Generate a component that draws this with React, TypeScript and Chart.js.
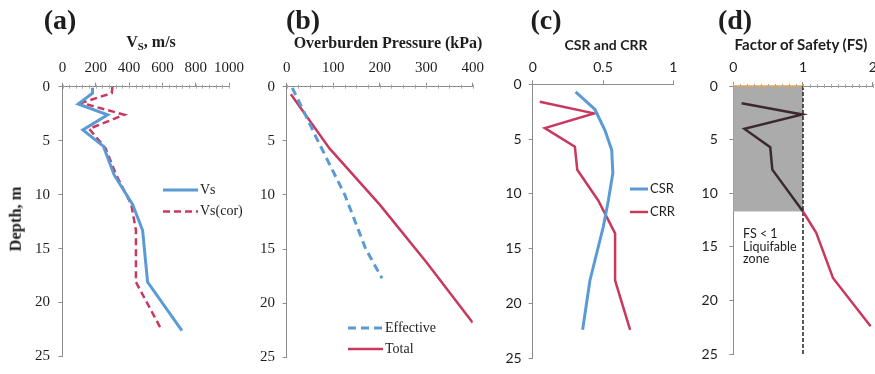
import React, { useEffect, useRef } from "react";
import { Chart, registerables } from "chart.js";

Chart.register(...registerables);

// ---------- Data ----------
// (a) Shear wave velocity profile
const VS_DEPTH = [0.1, 0.6, 1.6, 2.6, 4.0, 5.5, 8.2, 10.9, 13.3, 18.1, 22.6];
const VS = [180, 180, 94, 271, 122, 245, 311, 421, 481, 511, 717];
const VSCOR_DEPTH = [0.0, 0.6, 1.5, 2.6, 3.9, 5.7, 8.2, 10.9, 13.3, 18.1, 22.6];
const VS_COR = [300, 296, 114, 371, 160, 258, 323, 413, 441, 441, 597];

// (b) Overburden pressure
const EFF_DEPTH = [0.1, 5.0, 10.0, 15.0, 17.7];
const EFFECTIVE = [12, 67, 125, 170, 205];
const TOT_DEPTH = [0.7, 5.7, 10.9, 16.2, 21.8];
const TOTAL = [9, 92, 200, 300, 400];

// (c) CSR and CRR
const CSR_DEPTH = [0.7, 2.3, 4.2, 6.0, 8.1, 10.6, 13.0, 17.9, 22.4];
const CSR = [0.305, 0.443, 0.514, 0.562, 0.57, 0.538, 0.502, 0.407, 0.355];
const CRR_DEPTH = [1.6, 2.65, 4.0, 5.7, 7.8, 10.6, 13.6, 17.9, 22.4];
const CRR = [0.05, 0.436, 0.086, 0.3, 0.317, 0.466, 0.586, 0.586, 0.693];

// (d) Factor of safety
const FS_DEPTH = [1.6, 2.65, 4.0, 5.7, 7.8, 11.7, 13.7, 17.9, 22.4];
const FS = [0.12, 0.99, 0.16, 0.53, 0.56, 1.0, 1.19, 1.43, 1.97];
const FS_LIMIT = [1, 1];
const FS_LIMIT_DEPTH = [0, 25];
const LIQ_DEPTH = 11.7;
const ZONE_TEXT = ["FS < 1", "Liquifable", "zone"];

// axis ranges / tick steps
const DEPTH_MAX = 25;
const DEPTH_STEP = 5;

// ---------- Styles ----------
const SERIF = '"Liberation Serif", "DejaVu Serif", serif';
const SANS = 'Lato, "Open Sans", "Noto Sans", sans-serif';
const BLUE = "#5b9bd5";
const RED = "#c8385f";
const DARK = "#3a2a2f";
const AXIS = "#8c8c8c";
const TEXT = "#1e1e1e";

const pts = (xs: number[], ys: number[]) => xs.map((x, i) => ({ x, y: ys[i] }));

type LegendItem = { label: string; color: string; dash: number[]; width: number };

const legendPlugin = (
  items: LegendItem[],
  dx: number,
  dy: number,
  rowH: number,
  sampleLen: number,
  font: string
) => ({
  id: "customLegend",
  afterDatasetsDraw(chart: any) {
    const { ctx, chartArea } = chart;
    ctx.save();
    items.forEach((it, i) => {
      const x = chartArea.left + dx;
      const y = chartArea.top + dy + i * rowH;
      ctx.beginPath();
      ctx.setLineDash(it.dash);
      ctx.strokeStyle = it.color;
      ctx.lineWidth = it.width;
      ctx.moveTo(x, y);
      ctx.lineTo(x + sampleLen, y);
      ctx.stroke();
      ctx.setLineDash([]);
      ctx.fillStyle = TEXT;
      ctx.font = font;
      ctx.textAlign = "left";
      ctx.textBaseline = "middle";
      ctx.fillText(it.label, x + sampleLen + 2, y);
    });
    ctx.restore();
  },
});

// small minor tick marks along the top axis, like the scanned original
const minorTicks = (step: number) => ({
  id: "minorTicks",
  afterDraw(chart: any) {
    const { ctx, scales, chartArea } = chart;
    const sx = scales.x;
    ctx.save();
    ctx.strokeStyle = "#a8a8a8";
    ctx.lineWidth = 1;
    ctx.beginPath();
    for (let v = sx.min; v <= sx.max + 1e-9; v += step) {
      const px = Math.round(sx.getPixelForValue(v)) + 0.5;
      ctx.moveTo(px, chartArea.top - 2);
      ctx.lineTo(px, chartArea.top + 2);
    }
    ctx.stroke();
    ctx.restore();
  },
});

type PanelCfg = {
  xMin: number;
  xMax: number;
  xStep: number;
  yW: number;
  xH: number;
  padT: number;
  padR: number;
  padB: number;
  family: string;
  fontSize: number;
  xPad: number;
  yPad: number;
};

function makeOptions(p: PanelCfg) {
  const font = { family: p.family, size: p.fontSize };
  return {
    animation: false,
    responsive: true,
    maintainAspectRatio: false,
    layout: { padding: { left: 0, right: p.padR, top: p.padT, bottom: p.padB } },
    plugins: { legend: { display: false }, tooltip: { enabled: false }, title: { display: false } },
    scales: {
      x: {
        type: "linear",
        position: "top",
        min: p.xMin,
        max: p.xMax,
        afterFit: (s: any) => {
          s.height = p.xH;
        },
        ticks: {
          stepSize: p.xStep,
          font,
          color: TEXT,
          padding: p.xPad,
          maxRotation: 0,
          autoSkip: false,
          callback: (v: any) => String(v),
        },
        grid: { drawOnChartArea: false, drawTicks: true, tickLength: 4, color: AXIS },
        border: { color: AXIS, width: 1 },
      },
      y: {
        type: "linear",
        reverse: true,
        min: 0,
        max: DEPTH_MAX,
        afterFit: (s: any) => {
          s.width = p.yW;
        },
        ticks: {
          stepSize: DEPTH_STEP,
          font,
          color: TEXT,
          padding: p.yPad,
          callback: (v: any) => String(v),
        },
        grid: { drawOnChartArea: false, drawTicks: true, tickLength: 4, color: AXIS },
        border: { color: AXIS, width: 1 },
      },
    },
  };
}

function ChartPanel({ left, width, build }: { left: number; width: number; build: () => any }) {
  const ref = useRef<HTMLCanvasElement>(null);
  useEffect(() => {
    const chart = new Chart(ref.current as HTMLCanvasElement, build());
    return () => chart.destroy();
  }, []);
  return (
    <div style={{ position: "absolute", left, top: 0, width, height: 374 }}>
      <canvas ref={ref} />
    </div>
  );
}

function Txt({
  x,
  y,
  size,
  family,
  bold = true,
  rotate = 0,
  children,
}: {
  x: number;
  y: number;
  size: number;
  family: string;
  bold?: boolean;
  rotate?: number;
  children: any;
}) {
  return (
    <div
      style={{
        position: "absolute",
        left: x,
        top: y,
        transform: `translate(-50%, -50%) rotate(${rotate}deg)`,
        fontFamily: family,
        fontSize: size,
        fontWeight: bold ? 700 : 400,
        lineHeight: 1,
        whiteSpace: "nowrap",
        color: TEXT,
      }}
    >
      {children}
    </div>
  );
}

const line = (data: any[], color: string, width: number, dash: number[] = []) => ({
  data,
  showLine: true,
  borderColor: color,
  backgroundColor: color,
  borderWidth: width,
  borderDash: dash,
  pointRadius: 0,
  fill: false,
  tension: 0,
});

const buildA = () => ({
  type: "scatter",
  data: {
    datasets: [
      { label: "Vs", ...line(pts(VS, VS_DEPTH), BLUE, 3) },
      { label: "Vs(cor)", ...line(pts(VS_COR, VSCOR_DEPTH), RED, 2.5, [7, 4]) },
    ],
  },
  options: makeOptions({
    xMin: 0, xMax: 1000, xStep: 200, yW: 62.5, xH: 36.7, padT: 50, padR: 18.5, padB: 10.7,
    family: SERIF, fontSize: 15, xPad: 6, yPad: 8.5,
  }),
  plugins: [
    minorTicks(40),
    legendPlugin(
      [
        { label: "Vs", color: BLUE, dash: [], width: 3 },
        { label: "Vs(cor)", color: RED, dash: [7, 4], width: 2.5 },
      ],
      100.5, 103.3, 21.5, 35, `14px ${SERIF}`
    ),
  ],
});

const buildB = () => ({
  type: "scatter",
  data: {
    datasets: [
      { label: "Effective", ...line(pts(EFFECTIVE, EFF_DEPTH), BLUE, 3, [8, 5]) },
      { label: "Total", ...line(pts(TOTAL, TOT_DEPTH), RED, 2.5) },
    ],
  },
  options: makeOptions({
    xMin: 0, xMax: 400, xStep: 100, yW: 36.7, xH: 36.7, padT: 50, padR: 13.3, padB: 9.7,
    family: SERIF, fontSize: 15, xPad: 6, yPad: 7.7,
  }),
  plugins: [
    minorTicks(25),
    legendPlugin(
      [
        { label: "Effective", color: BLUE, dash: [8, 5], width: 3 },
        { label: "Total", color: RED, dash: [], width: 2.5 },
      ],
      61.3, 241.3, 21, 35, `14px ${SERIF}`
    ),
  ],
});

const buildC = () => ({
  type: "scatter",
  data: {
    datasets: [
      { label: "CSR", ...line(pts(CSR, CSR_DEPTH), BLUE, 3) },
      { label: "CRR", ...line(pts(CRR, CRR_DEPTH), RED, 2.5) },
    ],
  },
  options: makeOptions({
    xMin: 0, xMax: 1, xStep: 0.5, yW: 42.7, xH: 34.3, padT: 50, padR: 16.7, padB: 15.7,
    family: SANS, fontSize: 14, xPad: 4.4, yPad: 7,
  }),
  plugins: [
    legendPlugin(
      [
        { label: "CSR", color: BLUE, dash: [], width: 3 },
        { label: "CRR", color: RED, dash: [], width: 2.5 },
      ],
      97.3, 104.7, 23, 18, `13px ${SANS}`
    ),
  ],
});

const shadePlugin = {
  id: "liqShade",
  beforeDatasetsDraw(chart: any) {
    const { ctx, scales } = chart;
    const x0 = scales.x.getPixelForValue(0);
    const x1 = scales.x.getPixelForValue(FS_LIMIT[0]);
    const y0 = scales.y.getPixelForValue(0);
    const y1 = scales.y.getPixelForValue(LIQ_DEPTH);
    ctx.save();
    ctx.fillStyle = "#ababab";
    ctx.fillRect(x0, y0, x1 - x0, y1 - y0);
    ctx.strokeStyle = "#e3a545";
    ctx.lineWidth = 1.5;
    ctx.beginPath();
    ctx.moveTo(x0, y0);
    ctx.lineTo(x1, y0);
    ctx.stroke();
    ctx.restore();
  },
  afterDatasetsDraw(chart: any) {
    const { ctx, scales } = chart;
    const x = scales.x.getPixelForValue(0.14);
    const y = scales.y.getPixelForValue(13.8);
    ctx.save();
    ctx.fillStyle = TEXT;
    ctx.font = `12.5px ${SANS}`;
    ctx.textAlign = "left";
    ctx.textBaseline = "middle";
    ZONE_TEXT.forEach((t, i) => ctx.fillText(t, x, y + i * 12.5));
    ctx.restore();
  },
};

const buildD = () => ({
  type: "scatter",
  data: {
    datasets: [
      {
        label: "FS",
        ...line(pts(FS, FS_DEPTH), RED, 2.5),
        segment: {
          borderColor: (c: any) => (c.p1.parsed.y <= LIQ_DEPTH + 1e-6 ? DARK : RED),
        },
      },
      { label: "FS = 1", ...line(pts(FS_LIMIT, FS_LIMIT_DEPTH), "#222222", 1.5, [4, 2]) },
    ],
  },
  options: makeOptions({
    xMin: 0, xMax: 2, xStep: 1, yW: 43.3, xH: 36, padT: 50, padR: 12.3, padB: 15.4,
    family: SANS, fontSize: 14, xPad: 6, yPad: 11.5,
  }),
  plugins: [shadePlugin, minorTicks(0.1)],
});

export default function App() {
  return (
    <div
      style={{
        position: "absolute",
        left: 0,
        top: 0,
        width: 875,
        height: 374,
        overflow: "hidden",
        background: "#ffffff",
      }}
    >
      <ChartPanel left={0} width={250} build={buildA} />
      <ChartPanel left={250} width={240} build={buildB} />
      <ChartPanel left={490} width={200} build={buildC} />
      <ChartPanel left={690} width={195} build={buildD} />

      <Txt x={60} y={20} size={28} family={SERIF}>(a)</Txt>
      <Txt x={303} y={20} size={28} family={SERIF}>(b)</Txt>
      <Txt x={546} y={20} size={28} family={SERIF}>(c)</Txt>
      <Txt x={735} y={20} size={28} family={SERIF}>(d)</Txt>

      <Txt x={151} y={43} size={16} family={SERIF}>
        V<span style={{ fontSize: "0.68em", verticalAlign: "-0.25em" }}>S</span>, m/s
      </Txt>
      <Txt x={388} y={43} size={16} family={SERIF}>Overburden Pressure (kPa)</Txt>
      <Txt x={606} y={45} size={14} family={SANS}>CSR and CRR</Txt>
      <Txt x={801} y={44} size={15} family={SANS}>Factor of Safety (FS)</Txt>
      <Txt x={16} y={219} size={16.5} family={SERIF} rotate={-90}>Depth, m</Txt>
    </div>
  );
}
